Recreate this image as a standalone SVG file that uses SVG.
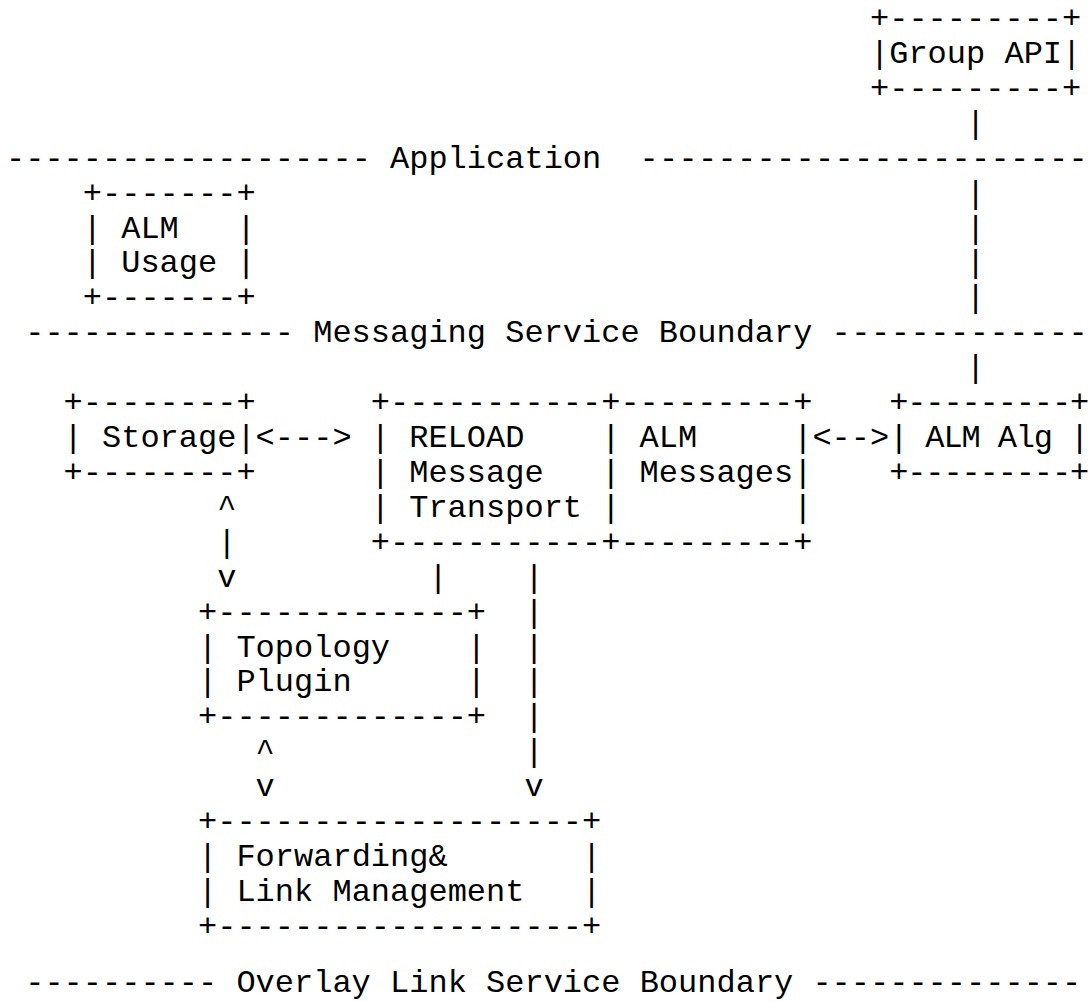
<svg xmlns="http://www.w3.org/2000/svg" width="1092" height="1002" viewBox="0 0 1092 1002">
<style>
.t { font-family: "Liberation Mono", "Courier New", monospace; font-size: 32px; fill: #000; white-space: pre; }
</style>
<rect x="0" y="0" width="1092" height="1002" fill="#fff"/>
<g id="boundaries">
<text class="t" x="6" y="167.68">-------------------</text>
<text class="t" x="390" y="167.68">Application</text>
<text class="t" x="639.6" y="167.68" textLength="448" lengthAdjust="spacing">-----------------------</text>
<text class="t" x="25.2" y="342.28">--------------</text>
<text class="t" x="313.2" y="342.28">Messaging Service Boundary</text>
<text class="t" x="831.6" y="342.28" textLength="256" lengthAdjust="spacing">-------------</text>
<text class="t" x="25.2" y="992">----------</text>
<text class="t" x="236.4" y="992">Overlay Link Service Boundary</text>
<text class="t" x="812.4" y="992">--------------</text>
</g>
<g id="group-api">
<text class="t" x="870" y="28">+---------+</text>
<text class="t" x="870" y="62.92">|Group API|</text>
<text class="t" x="870" y="97.84">+---------+</text>
</g>
<g id="alm-usage">
<text class="t" xml:space="preserve" x="82.8" y="202.6">+-------+</text>
<text class="t" xml:space="preserve" x="82.8" y="237.52">| ALM   |</text>
<text class="t" xml:space="preserve" x="82.8" y="272.44">| Usage |</text>
<text class="t" xml:space="preserve" x="82.8" y="307.36">+-------+</text>
</g>
<g id="storage">
<text class="t" xml:space="preserve" x="63.6" y="412.12">+--------+</text>
<text class="t" xml:space="preserve" x="63.6" y="447.04">| Storage|</text>
<text class="t" xml:space="preserve" x="63.6" y="481.96">+--------+</text>
</g>
<g id="reload-message-transport">
<text class="t" xml:space="preserve" x="370.8" y="412.12">+-----------+</text>
<text class="t" xml:space="preserve" x="370.8" y="447.04">| RELOAD    |</text>
<text class="t" xml:space="preserve" x="370.8" y="481.96">| Message   |</text>
<text class="t" xml:space="preserve" x="370.8" y="516.88">| Transport |</text>
<text class="t" xml:space="preserve" x="370.8" y="551.8">+-----------+</text>
</g>
<g id="alm-messages">
<text class="t" xml:space="preserve" x="620.4" y="412.12">---------+</text>
<text class="t" xml:space="preserve" x="620.4" y="447.04"> ALM     |</text>
<text class="t" xml:space="preserve" x="620.4" y="481.96"> Messages|</text>
<text class="t" xml:space="preserve" x="620.4" y="516.88">         |</text>
<text class="t" xml:space="preserve" x="620.4" y="551.8">---------+</text>
</g>
<g id="alm-alg">
<text class="t" xml:space="preserve" x="889.2" y="412.12" textLength="200" lengthAdjust="spacing">+---------+</text>
<text class="t" xml:space="preserve" x="889.2" y="447.04" textLength="200" lengthAdjust="spacing">| ALM Alg |</text>
<text class="t" xml:space="preserve" x="889.2" y="481.96" textLength="200" lengthAdjust="spacing">+---------+</text>
</g>
<g id="topology-plugin">
<text class="t" xml:space="preserve" x="198" y="621.64">+-------------+</text>
<text class="t" xml:space="preserve" x="198" y="656.56">| Topology    |</text>
<text class="t" xml:space="preserve" x="198" y="691.48">| Plugin      |</text>
<text class="t" xml:space="preserve" x="198" y="726.4">+-------------+</text>
</g>
<g id="forwarding-link-management">
<text class="t" xml:space="preserve" x="198" y="831.16">+-------------------+</text>
<text class="t" xml:space="preserve" x="198" y="866.08">| Forwarding&amp;       |</text>
<text class="t" xml:space="preserve" x="198" y="901">| Link Management   |</text>
<text class="t" xml:space="preserve" x="198" y="935.92">+-------------------+</text>
</g>
<g id="connectors">
<text class="t" x="966" y="132.76">|</text>
<text class="t" x="966" y="202.6">|</text>
<text class="t" x="966" y="237.52">|</text>
<text class="t" x="966" y="272.44">|</text>
<text class="t" x="966" y="307.36">|</text>
<text class="t" x="966" y="377.2">|</text>
<text class="t" x="255.6" y="447.04">&lt;---&gt;</text>
<text class="t" x="812.4" y="447.04">&lt;--&gt;</text>
<text class="t" x="217.2" y="516.88">^</text>
<text class="t" x="217.2" y="551.8">|</text>
<text class="t" x="217.2" y="586.72">v</text>
<text class="t" x="428.4" y="586.72">|</text>
<text class="t" x="524.4" y="586.72">|</text>
<text class="t" x="524.4" y="621.64">|</text>
<text class="t" x="524.4" y="656.56">|</text>
<text class="t" x="524.4" y="691.48">|</text>
<text class="t" x="524.4" y="726.4">|</text>
<text class="t" x="524.4" y="761.32">|</text>
<text class="t" x="524.4" y="796.24">v</text>
<text class="t" x="255.6" y="761.32">^</text>
<text class="t" x="255.6" y="796.24">v</text>
</g>
</svg>
